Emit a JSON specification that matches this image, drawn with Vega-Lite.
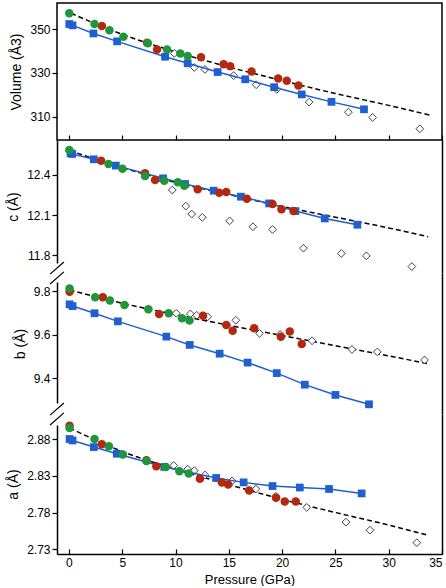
{
  "$schema": "https://vega.github.io/schema/vega-lite/v6.json",
  "padding": {"left": 6, "top": 2, "right": 0, "bottom": 0},
  "spacing": 0,
  "bounds": "flush",
  "config": {
    "font": "Liberation Sans",
    "view": {"stroke": null},
    "axis": {"labelFontSize": 12, "titleFontSize": 14, "titleFontWeight": "normal", "labelColor": "#000", "titleColor": "#000", "domainColor": "#000", "tickColor": "#000", "grid": false, "domainWidth": 1.5, "tickWidth": 1.2, "labelFont": "Liberation Sans", "titleFont": "Liberation Sans"}
  },
  "datasets": {
    "vol": [
      {"s": "run1", "P": 0.03, "v": 357.2}, {"s": "run1", "P": 2.40, "v": 352.3}, {"s": "run1", "P": 3.80, "v": 349.5}, {"s": "run1", "P": 5.11, "v": 346.5}, {"s": "run1", "P": 7.40, "v": 343.5}, {"s": "run1", "P": 9.20, "v": 340.7}, {"s": "run1", "P": 10.45, "v": 338.9}, {"s": "run1", "P": 11.14, "v": 337.7},
      {"s": "run2", "P": 3.09, "v": 351.4}, {"s": "run2", "P": 7.33, "v": 343.8}, {"s": "run2", "P": 8.27, "v": 340.7}, {"s": "run2", "P": 12.39, "v": 337.1}, {"s": "run2", "P": 14.51, "v": 334.0}, {"s": "run2", "P": 15.13, "v": 333.1}, {"s": "run2", "P": 17.13, "v": 330.7}, {"s": "run2", "P": 19.63, "v": 327.5}, {"s": "run2", "P": 20.44, "v": 326.4}, {"s": "run2", "P": 21.53, "v": 324.3},
      {"s": "calc", "P": 0.03, "v": 352.3}, {"s": "calc", "P": 0.34, "v": 351.7}, {"s": "calc", "P": 2.30, "v": 348.0}, {"s": "calc", "P": 4.52, "v": 344.4}, {"s": "calc", "P": 9.02, "v": 337.4}, {"s": "calc", "P": 11.14, "v": 334.4}, {"s": "calc", "P": 13.95, "v": 330.4}, {"s": "calc", "P": 16.54, "v": 327.1}, {"s": "calc", "P": 19.25, "v": 323.5}, {"s": "calc", "P": 21.84, "v": 320.2}, {"s": "calc", "P": 24.63, "v": 316.8}, {"s": "calc", "P": 27.68, "v": 313.4},
      {"s": "ref", "P": 9.89, "v": 338.9}, {"s": "ref", "P": 11.76, "v": 332.5}, {"s": "ref", "P": 12.76, "v": 331.6}, {"s": "ref", "P": 15.45, "v": 328.8}, {"s": "ref", "P": 17.57, "v": 324.6}, {"s": "ref", "P": 19.50, "v": 322.5}, {"s": "ref", "P": 22.53, "v": 316.7}, {"s": "ref", "P": 26.22, "v": 312.1}, {"s": "ref", "P": 28.49, "v": 309.7}, {"s": "ref", "P": 32.92, "v": 304.5},
      {"s": "fit", "P": 0.2, "v": 357.2}, {"s": "fit", "P": 5, "v": 347.6}, {"s": "fit", "P": 10, "v": 339.6}, {"s": "fit", "P": 15, "v": 332.7}, {"s": "fit", "P": 20, "v": 326.5}, {"s": "fit", "P": 25, "v": 320.6}, {"s": "fit", "P": 30, "v": 315.2}, {"s": "fit", "P": 33.9, "v": 310.7}
    ],
    "c": [
      {"s": "run1", "P": 0.03, "v": 12.587}, {"s": "run1", "P": 3.71, "v": 12.482}, {"s": "run1", "P": 5.02, "v": 12.447}, {"s": "run1", "P": 7.14, "v": 12.393}, {"s": "run1", "P": 8.95, "v": 12.357}, {"s": "run1", "P": 10.21, "v": 12.345}, {"s": "run1", "P": 10.82, "v": 12.320},
      {"s": "run2", "P": 3.02, "v": 12.507}, {"s": "run2", "P": 7.14, "v": 12.413}, {"s": "run2", "P": 8.08, "v": 12.363}, {"s": "run2", "P": 12.08, "v": 12.293}, {"s": "run2", "P": 14.10, "v": 12.268}, {"s": "run2", "P": 14.76, "v": 12.273}, {"s": "run2", "P": 16.69, "v": 12.223}, {"s": "run2", "P": 19.10, "v": 12.183}, {"s": "run2", "P": 19.94, "v": 12.144}, {"s": "run2", "P": 21.07, "v": 12.131},
      {"s": "calc", "P": 0.15, "v": 12.562}, {"s": "calc", "P": 0.31, "v": 12.557}, {"s": "calc", "P": 2.34, "v": 12.517}, {"s": "calc", "P": 4.40, "v": 12.470}, {"s": "calc", "P": 8.83, "v": 12.375}, {"s": "calc", "P": 10.89, "v": 12.333}, {"s": "calc", "P": 13.58, "v": 12.283}, {"s": "calc", "P": 16.13, "v": 12.238}, {"s": "calc", "P": 18.78, "v": 12.188}, {"s": "calc", "P": 21.25, "v": 12.131}, {"s": "calc", "P": 24.0, "v": 12.076}, {"s": "calc", "P": 27.06, "v": 12.029},
      {"s": "ref", "P": 9.70, "v": 12.288}, {"s": "ref", "P": 10.96, "v": 12.168}, {"s": "ref", "P": 11.52, "v": 12.109}, {"s": "ref", "P": 12.51, "v": 12.084}, {"s": "ref", "P": 15.07, "v": 12.058}, {"s": "ref", "P": 17.26, "v": 12.014}, {"s": "ref", "P": 19.10, "v": 11.994}, {"s": "ref", "P": 22.0, "v": 11.854}, {"s": "ref", "P": 25.56, "v": 11.815}, {"s": "ref", "P": 27.90, "v": 11.797}, {"s": "ref", "P": 32.17, "v": 11.717},
      {"s": "fit", "P": 0.06, "v": 12.582}, {"s": "fit", "P": 5, "v": 12.455}, {"s": "fit", "P": 10, "v": 12.345}, {"s": "fit", "P": 15, "v": 12.255}, {"s": "fit", "P": 20, "v": 12.165}, {"s": "fit", "P": 25, "v": 12.085}, {"s": "fit", "P": 30, "v": 12.005}, {"s": "fit", "P": 33.7, "v": 11.94}
    ],
    "b": [
      {"s": "run1", "P": 0.06, "v": 9.812}, {"s": "run1", "P": 2.46, "v": 9.771}, {"s": "run1", "P": 3.84, "v": 9.756}, {"s": "run1", "P": 5.21, "v": 9.736}, {"s": "run1", "P": 7.45, "v": 9.716}, {"s": "run1", "P": 9.36, "v": 9.698}, {"s": "run1", "P": 10.61, "v": 9.675}, {"s": "run1", "P": 11.31, "v": 9.665},
      {"s": "run2", "P": 0.06, "v": 9.797}, {"s": "run2", "P": 3.18, "v": 9.771}, {"s": "run2", "P": 8.46, "v": 9.695}, {"s": "run2", "P": 12.58, "v": 9.687}, {"s": "run2", "P": 14.76, "v": 9.644}, {"s": "run2", "P": 15.36, "v": 9.618}, {"s": "run2", "P": 17.38, "v": 9.629}, {"s": "run2", "P": 19.88, "v": 9.591}, {"s": "run2", "P": 20.72, "v": 9.615}, {"s": "run2", "P": 21.84, "v": 9.557},
      {"s": "calc", "P": 0.06, "v": 9.739}, {"s": "calc", "P": 0.34, "v": 9.731}, {"s": "calc", "P": 2.40, "v": 9.698}, {"s": "calc", "P": 4.59, "v": 9.661}, {"s": "calc", "P": 9.14, "v": 9.591}, {"s": "calc", "P": 11.33, "v": 9.553}, {"s": "calc", "P": 14.14, "v": 9.513}, {"s": "calc", "P": 16.76, "v": 9.472}, {"s": "calc", "P": 19.50, "v": 9.424}, {"s": "calc", "P": 22.13, "v": 9.371}, {"s": "calc", "P": 25.0, "v": 9.324}, {"s": "calc", "P": 28.15, "v": 9.281},
      {"s": "ref", "P": 10.07, "v": 9.698}, {"s": "ref", "P": 11.39, "v": 9.695}, {"s": "ref", "P": 11.99, "v": 9.689}, {"s": "ref", "P": 13.01, "v": 9.682}, {"s": "ref", "P": 15.66, "v": 9.666}, {"s": "ref", "P": 17.88, "v": 9.606}, {"s": "ref", "P": 19.81, "v": 9.601}, {"s": "ref", "P": 22.81, "v": 9.572}, {"s": "ref", "P": 26.55, "v": 9.532}, {"s": "ref", "P": 28.93, "v": 9.521}, {"s": "ref", "P": 33.36, "v": 9.484},
      {"s": "fit", "P": 0.06, "v": 9.805}, {"s": "fit", "P": 5, "v": 9.744}, {"s": "fit", "P": 10, "v": 9.692}, {"s": "fit", "P": 15, "v": 9.643}, {"s": "fit", "P": 20, "v": 9.596}, {"s": "fit", "P": 25, "v": 9.549}, {"s": "fit", "P": 30, "v": 9.503}, {"s": "fit", "P": 33.86, "v": 9.465}
    ],
    "a": [
      {"s": "run1", "P": 0.06, "v": 2.895}, {"s": "run1", "P": 2.40, "v": 2.880}, {"s": "run1", "P": 3.75, "v": 2.870}, {"s": "run1", "P": 5.06, "v": 2.859}, {"s": "run1", "P": 7.27, "v": 2.850}, {"s": "run1", "P": 9.08, "v": 2.842}, {"s": "run1", "P": 10.36, "v": 2.836}, {"s": "run1", "P": 11.24, "v": 2.833},
      {"s": "run2", "P": 0.06, "v": 2.898}, {"s": "run2", "P": 3.09, "v": 2.873}, {"s": "run2", "P": 7.27, "v": 2.851}, {"s": "run2", "P": 8.20, "v": 2.843}, {"s": "run2", "P": 12.29, "v": 2.826}, {"s": "run2", "P": 14.35, "v": 2.821}, {"s": "run2", "P": 14.94, "v": 2.818}, {"s": "run2", "P": 16.91, "v": 2.810}, {"s": "run2", "P": 19.43, "v": 2.800}, {"s": "run2", "P": 20.25, "v": 2.795}, {"s": "run2", "P": 21.28, "v": 2.795},
      {"s": "calc", "P": 0.06, "v": 2.880}, {"s": "calc", "P": 0.34, "v": 2.878}, {"s": "calc", "P": 2.34, "v": 2.869}, {"s": "calc", "P": 4.49, "v": 2.860}, {"s": "calc", "P": 8.95, "v": 2.842}, {"s": "calc", "P": 13.82, "v": 2.827}, {"s": "calc", "P": 16.39, "v": 2.821}, {"s": "calc", "P": 19.10, "v": 2.816}, {"s": "calc", "P": 21.66, "v": 2.814}, {"s": "calc", "P": 24.40, "v": 2.812}, {"s": "calc", "P": 27.46, "v": 2.806},
      {"s": "ref", "P": 9.83, "v": 2.844}, {"s": "ref", "P": 11.14, "v": 2.839}, {"s": "ref", "P": 11.76, "v": 2.837}, {"s": "ref", "P": 12.76, "v": 2.831}, {"s": "ref", "P": 15.29, "v": 2.823}, {"s": "ref", "P": 17.54, "v": 2.812}, {"s": "ref", "P": 19.41, "v": 2.802}, {"s": "ref", "P": 22.31, "v": 2.787}, {"s": "ref", "P": 25.99, "v": 2.767}, {"s": "ref", "P": 28.24, "v": 2.756}, {"s": "ref", "P": 32.64, "v": 2.739},
      {"s": "fit", "P": 0.06, "v": 2.895}, {"s": "fit", "P": 5, "v": 2.863}, {"s": "fit", "P": 10, "v": 2.839}, {"s": "fit", "P": 15, "v": 2.818}, {"s": "fit", "P": 20, "v": 2.798}, {"s": "fit", "P": 25, "v": 2.780}, {"s": "fit", "P": 30, "v": 2.763}, {"s": "fit", "P": 33.71, "v": 2.749}
    ]
  },
  "vconcat": [
    {
      "width": 385, "height": 137,
      "view": {"stroke": "#000", "strokeWidth": 1.5},
      "data": {"name": "vol"},
      "layer": [
        {"transform": [{"filter": "datum.s === 'fit'"}], "mark": {"type": "line", "stroke": "#000", "strokeWidth": 1.5, "strokeDash": [5, 3], "interpolate": "monotone"},
         "encoding": {
           "x": {"field": "P", "type": "quantitative", "scale": {"domain": [-1.12, 35], "nice": false, "zero": false}, "axis": {"orient": "bottom", "values": [0, 5, 10, 15, 20, 25, 30, 35], "labels": false, "title": null, "domain": false, "tickSize": -5}},
           "y": {"field": "v", "type": "quantitative", "scale": {"domain": [299.4, 361.9], "nice": false, "zero": false}, "axis": {"orient": "left", "values": [310, 330, 350], "title": "Volume (Å3)", "domain": false, "tickSize": 5, "labelPadding": 2, "titlePadding": 6}}}},
        {"transform": [{"filter": "datum.s === 'ref'"}], "mark": {"type": "point", "shape": "diamond", "filled": true, "fill": "#fff", "stroke": "#444", "strokeWidth": 1, "size": 60, "opacity": 1},
         "encoding": {"x": {"field": "P", "type": "quantitative"}, "y": {"field": "v", "type": "quantitative"}}},
        {"transform": [{"filter": "datum.s === 'calc'"}], "mark": {"type": "line", "stroke": "#1f5fcf", "strokeWidth": 1.5},
         "encoding": {"x": {"field": "P", "type": "quantitative"}, "y": {"field": "v", "type": "quantitative"}}},
        {"transform": [{"filter": "datum.s === 'calc'"}], "mark": {"type": "point", "shape": "square", "filled": true, "color": "#1f5fcf", "size": 60, "opacity": 1},
         "encoding": {"x": {"field": "P", "type": "quantitative"}, "y": {"field": "v", "type": "quantitative"}}},
        {"transform": [{"filter": "datum.s === 'run2'"}], "mark": {"type": "circle", "color": "#b5280f", "size": 72, "opacity": 1},
         "encoding": {"x": {"field": "P", "type": "quantitative"}, "y": {"field": "v", "type": "quantitative"}}},
        {"transform": [{"filter": "datum.s === 'run1'"}], "mark": {"type": "circle", "color": "#1f963a", "size": 72, "opacity": 1},
         "encoding": {"x": {"field": "P", "type": "quantitative"}, "y": {"field": "v", "type": "quantitative"}}}
      ]
    },
    {
      "width": 385, "height": 133,
      "data": {"name": "c"},
      "resolve": {"axis": {"y": "independent"}},
      "layer": [
        {"transform": [{"filter": "datum.s === 'fit'"}], "mark": {"type": "line", "stroke": "#000", "strokeWidth": 1.5, "strokeDash": [5, 3], "interpolate": "monotone"},
         "encoding": {
           "x": {"field": "P", "type": "quantitative", "scale": {"domain": [-1.12, 35], "nice": false, "zero": false}, "axis": null},
           "y": {"field": "v", "type": "quantitative", "scale": {"domain": [11.669, 12.661], "nice": false, "zero": false}, "axis": {"orient": "left", "values": [11.8, 12.1, 12.4], "format": ".1f", "title": "c (Å)", "tickSize": 5, "labelPadding": 2, "titlePadding": 6, "domainDash": [123, 200], "domainDashOffset": 313}}}},
        {"transform": [{"filter": "datum.s === 'ref'"}], "mark": {"type": "point", "shape": "diamond", "filled": true, "fill": "#fff", "stroke": "#444", "strokeWidth": 1, "size": 60, "opacity": 1},
         "encoding": {"x": {"field": "P", "type": "quantitative"}, "y": {"field": "v", "type": "quantitative", "axis": {"orient": "right", "labels": false, "ticks": false, "title": null}}}},
        {"transform": [{"filter": "datum.s === 'calc'"}], "mark": {"type": "line", "stroke": "#1f5fcf", "strokeWidth": 1.5},
         "encoding": {"x": {"field": "P", "type": "quantitative"}, "y": {"field": "v", "type": "quantitative", "axis": null}}},
        {"transform": [{"filter": "datum.s === 'calc'"}], "mark": {"type": "point", "shape": "square", "filled": true, "color": "#1f5fcf", "size": 60, "opacity": 1},
         "encoding": {"x": {"field": "P", "type": "quantitative"}, "y": {"field": "v", "type": "quantitative", "axis": null}}},
        {"transform": [{"filter": "datum.s === 'run2'"}], "mark": {"type": "circle", "color": "#b5280f", "size": 72, "opacity": 1},
         "encoding": {"x": {"field": "P", "type": "quantitative"}, "y": {"field": "v", "type": "quantitative", "axis": null}}},
        {"transform": [{"filter": "datum.s === 'run1'"}], "mark": {"type": "circle", "color": "#1f963a", "size": 72, "opacity": 1},
         "encoding": {"x": {"field": "P", "type": "quantitative"}, "y": {"field": "v", "type": "quantitative", "axis": null}}},
        {"data": {"values": [{"brk": "c/b"}]}, "mark": {"type": "point", "shape": "M-0.6,0.1L0.6,-0.95M-0.6,0.95L0.6,-0.1", "filled": false, "stroke": "#000", "strokeWidth": 1.2, "size": 529, "opacity": 1, "clip": false},
         "encoding": {"x": {"datum": -1.12, "type": "quantitative"}, "y": {"datum": 11.669, "type": "quantitative", "axis": null}}}
      ]
    },
    {
      "width": 385, "height": 141,
      "data": {"name": "b"},
      "resolve": {"axis": {"y": "independent"}},
      "layer": [
        {"transform": [{"filter": "datum.s === 'fit'"}], "mark": {"type": "line", "stroke": "#000", "strokeWidth": 1.5, "strokeDash": [5, 3], "interpolate": "monotone"},
         "encoding": {
           "x": {"field": "P", "type": "quantitative", "scale": {"domain": [-1.12, 35], "nice": false, "zero": false}, "axis": null},
           "y": {"field": "v", "type": "quantitative", "scale": {"domain": [9.2366, 9.8825], "nice": false, "zero": false}, "axis": {"orient": "left", "values": [9.4, 9.6, 9.8], "format": ".1f", "title": "b (Å)", "tickSize": 5, "labelPadding": 2, "titlePadding": 6, "domainDash": [121, 200], "domainDashOffset": 310}}}},
        {"transform": [{"filter": "datum.s === 'ref'"}], "mark": {"type": "point", "shape": "diamond", "filled": true, "fill": "#fff", "stroke": "#444", "strokeWidth": 1, "size": 60, "opacity": 1},
         "encoding": {"x": {"field": "P", "type": "quantitative"}, "y": {"field": "v", "type": "quantitative", "axis": {"orient": "right", "labels": false, "ticks": false, "title": null}}}},
        {"transform": [{"filter": "datum.s === 'calc'"}], "mark": {"type": "line", "stroke": "#1f5fcf", "strokeWidth": 1.5},
         "encoding": {"x": {"field": "P", "type": "quantitative"}, "y": {"field": "v", "type": "quantitative", "axis": null}}},
        {"transform": [{"filter": "datum.s === 'calc'"}], "mark": {"type": "point", "shape": "square", "filled": true, "color": "#1f5fcf", "size": 60, "opacity": 1},
         "encoding": {"x": {"field": "P", "type": "quantitative"}, "y": {"field": "v", "type": "quantitative", "axis": null}}},
        {"transform": [{"filter": "datum.s === 'run2'"}], "mark": {"type": "circle", "color": "#b5280f", "size": 72, "opacity": 1},
         "encoding": {"x": {"field": "P", "type": "quantitative"}, "y": {"field": "v", "type": "quantitative", "axis": null}}},
        {"transform": [{"filter": "datum.s === 'run1'"}], "mark": {"type": "circle", "color": "#1f963a", "size": 72, "opacity": 1},
         "encoding": {"x": {"field": "P", "type": "quantitative"}, "y": {"field": "v", "type": "quantitative", "axis": null}}},
        {"data": {"values": [{"brk": "b/a"}]}, "mark": {"type": "point", "shape": "M-0.6,0.1L0.6,-0.95M-0.6,0.95L0.6,-0.1", "filled": false, "stroke": "#000", "strokeWidth": 1.2, "size": 529, "opacity": 1, "clip": false},
         "encoding": {"x": {"datum": -1.12, "type": "quantitative"}, "y": {"datum": 9.2366, "type": "quantitative", "axis": null}}}
      ]
    },
    {
      "width": 385, "height": 140,
      "data": {"name": "a"},
      "resolve": {"axis": {"y": "independent"}},
      "layer": [
        {"transform": [{"filter": "datum.s === 'fit'"}], "mark": {"type": "line", "stroke": "#000", "strokeWidth": 1.5, "strokeDash": [5, 3], "interpolate": "monotone"},
         "encoding": {
           "x": {"field": "P", "type": "quantitative", "scale": {"domain": [-1.12, 35], "nice": false, "zero": false}, "axis": {"orient": "bottom", "values": [0, 5, 10, 15, 20, 25, 30, 35], "title": "Pressure (GPa)", "titleFontSize": 13, "tickSize": -5, "labelPadding": 8, "titlePadding": 5}},
           "y": {"field": "v", "type": "quantitative", "scale": {"domain": [2.7236, 2.914], "nice": false, "zero": false}, "axis": {"orient": "left", "values": [2.73, 2.78, 2.83, 2.88], "format": ".2f", "title": "a (Å)", "tickSize": 5, "labelPadding": 2, "titlePadding": 6, "domainDash": [129, 200], "domainDashOffset": 0}}}},
        {"transform": [{"filter": "datum.s === 'ref'"}], "mark": {"type": "point", "shape": "diamond", "filled": true, "fill": "#fff", "stroke": "#444", "strokeWidth": 1, "size": 60, "opacity": 1},
         "encoding": {"x": {"field": "P", "type": "quantitative"}, "y": {"field": "v", "type": "quantitative", "axis": {"orient": "right", "labels": false, "ticks": false, "title": null}}}},
        {"transform": [{"filter": "datum.s === 'calc'"}], "mark": {"type": "line", "stroke": "#1f5fcf", "strokeWidth": 1.5},
         "encoding": {"x": {"field": "P", "type": "quantitative"}, "y": {"field": "v", "type": "quantitative", "axis": null}}},
        {"transform": [{"filter": "datum.s === 'calc'"}], "mark": {"type": "point", "shape": "square", "filled": true, "color": "#1f5fcf", "size": 60, "opacity": 1},
         "encoding": {"x": {"field": "P", "type": "quantitative"}, "y": {"field": "v", "type": "quantitative", "axis": null}}},
        {"transform": [{"filter": "datum.s === 'run2'"}], "mark": {"type": "circle", "color": "#b5280f", "size": 72, "opacity": 1},
         "encoding": {"x": {"field": "P", "type": "quantitative"}, "y": {"field": "v", "type": "quantitative", "axis": null}}},
        {"transform": [{"filter": "datum.s === 'run1'"}], "mark": {"type": "circle", "color": "#1f963a", "size": 72, "opacity": 1},
         "encoding": {"x": {"field": "P", "type": "quantitative"}, "y": {"field": "v", "type": "quantitative", "axis": null}}}
      ]
    }
  ]
}
